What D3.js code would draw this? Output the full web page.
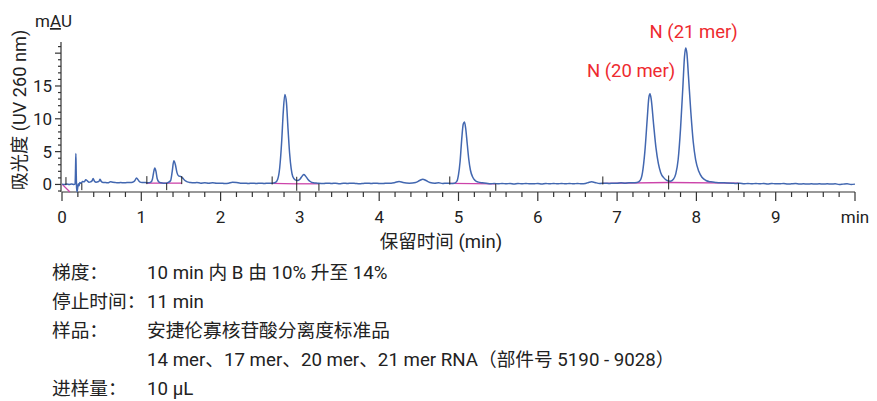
<!DOCTYPE html>
<html>
<head>
<meta charset="utf-8">
<script src="https://cdn.jsdelivr.net/npm/d3@7"></script>
<style>
  body { margin: 0; background: #fff; }
  svg text { font-family: Roboto, "Noto Sans CJK SC", sans-serif; fill: #222; }
</style>
</head>
<body>
<svg id="chart" width="877" height="401"></svg>
<script>
// chromatogram trace, [time (min), mAU]
const trace = [
  [0,0.05],[0.03,0.0],[0.06,0.05],[0.09,0.0],[0.12,0.05],[0.15,0.0],[0.165,0.05],[0.171,2.5],[0.175,4.7],
  [0.179,2.0],[0.184,-0.5],[0.19,-1.1],[0.197,-0.6],[0.205,0.1],[0.215,-0.2],[0.225,0.3],[0.24,0.2],
  [0.26,0.45],[0.28,0.4],[0.30,0.7],[0.32,0.55],[0.34,0.35],[0.36,0.4],[0.38,0.55],[0.392,0.9],[0.41,0.5],
  [0.43,0.35],[0.455,0.4],[0.47,0.55],[0.48,0.8],[0.495,0.45],[0.52,0.3],[0.55,0.3],[0.58,0.25],[0.61,0.4],
  [0.64,0.35],[0.67,0.3],[0.70,0.25],[0.74,0.3],[0.78,0.25],[0.82,0.3],[0.86,0.3],[0.89,0.35],[0.92,0.6],
  [0.94,1.0],[0.96,0.7],[0.98,0.4],[1.01,0.3],[1.05,0.3],[1.09,0.25],[1.12,0.35],[1.14,0.8],[1.155,1.8],
  [1.17,2.5],[1.185,2.0],[1.20,0.9],[1.22,0.4],[1.25,0.25],[1.28,0.2],[1.31,0.2],[1.34,0.3],[1.37,0.6],
  [1.39,2.0],[1.41,3.6],[1.43,3.0],[1.45,1.8],[1.47,1.3],[1.50,1.2],[1.52,1.0],[1.55,0.6],[1.58,0.4],
  [1.62,0.3],[1.66,0.25],[1.7,0.3],[1.75,0.2],[1.8,0.25],[1.85,0.2],[1.9,0.25],[1.95,0.2],[2.0,0.2],
  [2.05,0.15],[2.1,0.2],[2.15,0.35],[2.2,0.3],[2.25,0.2],[2.3,0.2],[2.35,0.15],[2.4,0.2],[2.45,0.15],
  [2.5,0.2],[2.55,0.15],[2.6,0.2],[2.65,0.2],[2.69,0.3],[2.72,0.8],[2.745,2.5],[2.77,6.5],[2.79,11.0],
  [2.81,13.7],[2.83,12.5],[2.85,8.5],[2.87,4.8],[2.89,2.4],[2.91,1.2],[2.94,0.7],[2.97,0.6],[3.0,0.8],
  [3.03,1.3],[3.05,1.5],[3.07,1.3],[3.1,0.8],[3.13,0.45],[3.17,0.25],[3.22,0.2],[3.3,0.15],[3.35,0.2],
  [3.4,0.15],[3.45,0.2],[3.5,0.1],[3.55,0.2],[3.6,0.15],[3.65,0.2],[3.7,0.15],[3.75,0.1],[3.8,0.15],
  [3.85,0.2],[3.9,0.15],[3.95,0.2],[4.0,0.15],[4.05,0.15],[4.1,0.2],[4.15,0.2],[4.2,0.3],[4.25,0.45],
  [4.3,0.3],[4.38,0.2],[4.46,0.3],[4.51,0.6],[4.55,0.8],[4.59,0.6],[4.64,0.3],[4.7,0.2],[4.75,0.25],
  [4.8,0.15],[4.85,0.2],[4.9,0.15],[4.95,0.2],[4.98,0.5],[5.0,1.5],[5.02,3.5],[5.04,6.8],[5.06,9.2],
  [5.075,9.5],[5.09,8.6],[5.11,6.2],[5.13,3.8],[5.15,2.2],[5.18,1.1],[5.21,0.6],[5.25,0.35],[5.3,0.25],
  [5.35,0.2],[5.4,0.1],[5.45,0.15],[5.5,0.1],[5.55,0.15],[5.6,0.1],[5.65,0.15],[5.7,0.05],[5.75,0.15],
  [5.8,0.1],[5.85,0.15],[5.9,0.1],[5.95,0.1],[6.0,0.15],[6.05,0.05],[6.1,0.15],[6.15,0.1],[6.2,0.15],
  [6.25,0.1],[6.3,0.15],[6.35,0.1],[6.4,0.15],[6.45,0.1],[6.5,0.15],[6.55,0.1],[6.6,0.15],[6.64,0.3],
  [6.68,0.4],[6.72,0.3],[6.78,0.15],[6.85,0.2],[6.9,0.15],[6.95,0.2],[7.0,0.2],[7.05,0.25],[7.1,0.2],
  [7.15,0.25],[7.2,0.25],[7.25,0.3],[7.29,0.6],[7.32,1.8],[7.35,5.0],[7.38,10.0],[7.40,13.2],[7.415,13.8],
  [7.43,13.0],[7.46,9.2],[7.49,5.6],[7.52,3.2],[7.55,1.8],[7.59,1.0],[7.63,0.6],[7.67,0.5],[7.71,0.8],
  [7.74,1.6],[7.77,3.8],[7.80,8.5],[7.83,15.0],[7.85,19.5],[7.865,20.8],[7.88,20.0],[7.90,16.5],[7.93,11.0],
  [7.96,6.5],[7.99,3.8],[8.03,2.0],[8.07,1.1],[8.12,0.6],[8.18,0.4],[8.25,0.3],[8.35,0.25],[8.45,0.2],
  [8.5,0.15],[8.55,0.2],[8.6,0.1],[8.65,0.15],[8.7,0.1],[8.75,0.15],[8.8,0.1],[8.85,0.15],[8.9,0.05],
  [8.95,0.15],[9.0,0.1],[9.05,0.1],[9.1,0.15],[9.15,0.05],[9.2,0.1],[9.25,0.15],[9.3,0.05],[9.35,0.1],
  [9.4,0.05],[9.45,0.1],[9.5,0.05],[9.55,0.1],[9.6,0.05],[9.65,0.1],[9.7,0.05],[9.75,0.1],[9.8,0.0],
  [9.85,0.05],[9.9,0.1],[9.95,0.0],[10.0,0.05]
]

// integration baselines [t0, v0, t1, v1]
const baselines = [
  [0.0,0.05,0.10,-1.15],[1.07,0.2,1.32,0.2],[1.32,0.2,1.51,0.2],[2.65,0.15,2.96,0.1],[2.96,0.1,3.24,0.1],
  [4.89,0.15,5.47,0.1],[6.82,0.15,7.65,0.3],[7.65,0.3,8.53,0.2]
]
// peak start / end marks [t, v, kind]
const marks = [
  [0.05,0.05,'up'],[0.25,0.2,'down'],[1.07,0.2,'up'],[1.32,0.2,'down'],[1.51,0.2,'up'],
  [2.65,0.15,'up'],[2.96,0.1,'cross'],[3.24,0.1,'down'],[4.89,0.15,'up'],[5.47,0.1,'down'],
  [6.82,0.15,'up'],[7.65,0.3,'cross'],[8.53,0.2,'down']
]
const peakNames = ['N (20 mer)', 'N (21 mer)']
const peakTimes = [7.415, 7.865]
const peakHeights = [13.8, 20.8]

const xTicks = [0,1,2,3,4,5,6,7,8,9]
const yTicks = [0,5,10,15]

const condLabels = ['梯度：', '停止时间：', '样品：', '', '进样量：']
const condValues = ['10 min 内 B 由 10% 升至 14%', '11 min', '安捷伦寡核苷酸分离度标准品',
  '14 mer、17 mer、20 mer、21 mer RNA（部件号 5190 - 9028）', '10 µL']

const svg = d3.select('#chart')

let x = d3.scaleLinear().domain([0, 10]).range([62, 855])
let y = d3.scaleLinear().domain([-1.15, 21.7]).range([192, 42])

// x axis
let xAxis = svg.append('g')
xAxis.append('line')
  .attr('x1', x(0)).attr('x2', x(10))
  .attr('y1', y(-1.15)).attr('y2', y(-1.15))
  .attr('stroke', '#333').attr('stroke-width', 1.2)
xAxis.selectAll('.xminor')
  .data(d3.range(0, 51).map(i => i / 5))
  .enter().append('line')
  .attr('x1', d => x(d)).attr('x2', d => x(d))
  .attr('y1', y(-1.15))
  .attr('y2', d => Math.abs(d - Math.round(d)) < 1e-6 ? y(-1.15) + 9 : y(-1.15) + 5)
  .attr('stroke', '#333').attr('stroke-width', 1.2)
xAxis.selectAll('.xlab')
  .data(xTicks)
  .enter().append('text')
  .attr('x', d => x(d)).attr('y', 223)
  .attr('text-anchor', 'middle')
  .attr('font-size', 17)
  .text(d => d)
xAxis.append('text')
  .attr('x', x(10)).attr('y', 223)
  .attr('text-anchor', 'middle')
  .attr('font-size', 17)
  .text('min')
svg.append('text')
  .attr('x', 441).attr('y', 248)
  .attr('text-anchor', 'middle')
  .attr('font-size', 18.5)
  .text('保留时间 (min)')

// y axis
let yAxis = svg.append('g')
yAxis.append('line')
  .attr('x1', 61).attr('x2', 61)
  .attr('y1', y(-1.15)).attr('y2', y(21.7))
  .attr('stroke', '#333').attr('stroke-width', 1.2)
yAxis.selectAll('.yminor')
  .data(d3.range(-1, 22))
  .enter().append('line')
  .attr('x1', d => d % 5 === 0 ? 55 : 58).attr('x2', 61)
  .attr('y1', d => y(d)).attr('y2', d => y(d))
  .attr('stroke', '#333').attr('stroke-width', 1.2)
yAxis.selectAll('.ylab')
  .data(yTicks)
  .enter().append('text')
  .attr('x', 52).attr('y', d => y(d) + 6)
  .attr('text-anchor', 'end')
  .attr('font-size', 17)
  .text(d => d)
svg.append('text')
  .attr('transform', 'translate(26,110) rotate(-90)')
  .attr('text-anchor', 'middle')
  .attr('font-size', 18.2)
  .text('吸光度 (UV 260 nm)')
let mau = svg.append('text')
  .attr('x', 35).attr('y', 27)
  .attr('font-size', 17)
mau.append('tspan').text('m')
mau.append('tspan').style('text-decoration', 'underline').text('A')
mau.append('tspan').text('U')

// integration baselines
svg.selectAll('.base')
  .data(baselines)
  .enter().append('line')
  .attr('x1', d => x(d[0])).attr('y1', d => y(d[1]))
  .attr('x2', d => x(d[2])).attr('y2', d => y(d[3]))
  .attr('stroke', '#cc44aa').attr('stroke-width', 1.3)

// trace
let line = d3.line()
  .x(d => x(d[0]))
  .y(d => y(d[1]))
  .curve(d3.curveMonotoneX)
svg.append('path')
  .datum(trace)
  .attr('d', line)
  .attr('fill', 'none')
  .attr('stroke', '#4267b0')
  .attr('stroke-width', 1.5)

// start/end marks
svg.selectAll('.mark')
  .data(marks)
  .enter().append('line')
  .attr('x1', d => x(d[0])).attr('x2', d => x(d[0]))
  .attr('y1', d => d[2] === 'down' ? y(d[1]) : y(d[1]) - 7)
  .attr('y2', d => d[2] === 'up' ? y(d[1]) + 1 : y(d[1]) + 7)
  .attr('stroke', '#222').attr('stroke-width', 1)

// peak labels
svg.selectAll('.plab')
  .data(peakNames)
  .enter().append('text')
  .attr('x', (d, i) => x(peakTimes[i]) + (i === 0 ? -19 : 8))
  .attr('y', (d, i) => y(peakHeights[i]) - (i === 0 ? 17 : 10))
  .attr('text-anchor', 'middle')
  .attr('font-size', 18.5)
  .style('fill', '#ee2a2f')
  .text(d => d)

// conditions text
let rows = svg.selectAll('.cond')
  .data(condLabels)
  .enter().append('g')
rows.append('text')
  .attr('x', 52).attr('y', (d, i) => 279 + i * 29)
  .attr('font-size', 18.7)
  .text(d => d)
rows.append('text')
  .attr('x', 147).attr('y', (d, i) => 279 + i * 29)
  .attr('font-size', 18.7)
  .text((d, i) => condValues[i])
</script>
</body>
</html>
